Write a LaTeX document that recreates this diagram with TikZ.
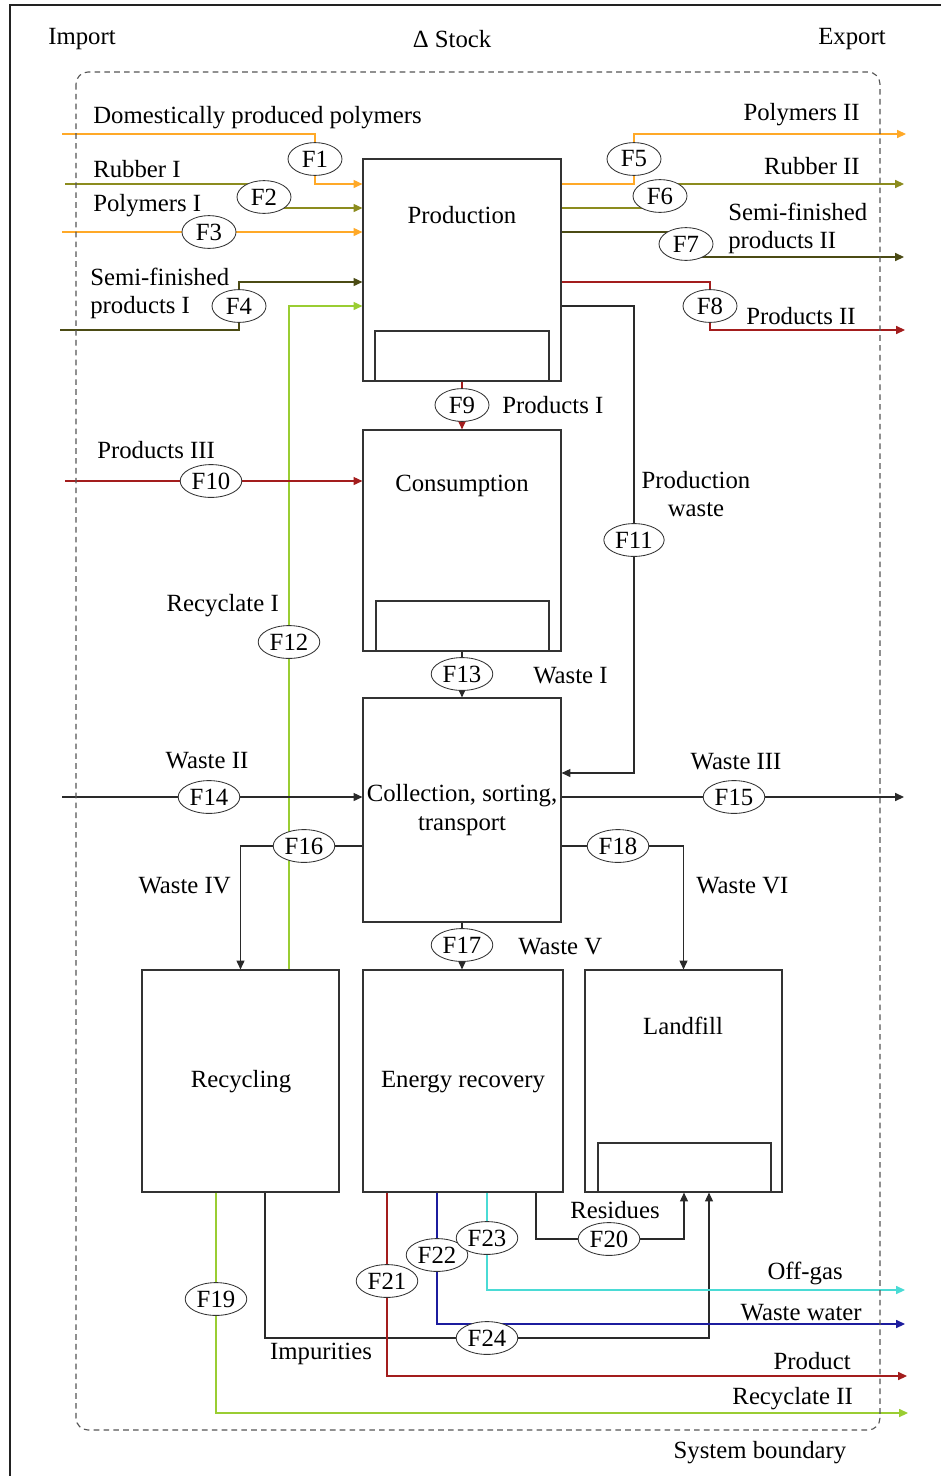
\documentclass[tikz,border=0pt]{standalone}
\usepackage{fontspec}
\setmainfont{Liberation Serif}
\usetikzlibrary{arrows.meta,shapes.geometric,backgrounds}
\definecolor{frame}{HTML}{222222}
\definecolor{boxln}{HTML}{333333}
\definecolor{bnd}{HTML}{555555}
\definecolor{blk}{HTML}{2A2A2A}
\definecolor{orng}{HTML}{FFA928}
\definecolor{olv}{HTML}{8C8C1E}
\definecolor{dolv}{HTML}{4B4B14}
\definecolor{dred}{HTML}{A31D1D}
\definecolor{ygrn}{HTML}{9ACD32}
\definecolor{cyn}{HTML}{4ADBD5}
\definecolor{navy}{HTML}{1C1C9E}
\tikzset{
  every node/.style={font=\fontsize{17.6}{20}\selectfont},
  proc/.style={draw=boxln,line width=0.8pt,inner sep=0pt},
  stk/.style={draw=boxln,line width=0.8pt},
  fl/.style={ellipse,draw=boxln,fill=white,line width=0.6pt,inner xsep=1.8pt,
             inner ysep=0pt,minimum height=0.82cm,minimum width=1.35cm},
  ln/.style={draw=#1,line width=0.8pt},
  ar/.style={ln=#1,-{Triangle[length=0.22cm,width=0.2cm]}},
  lb/.style={inner sep=0pt},
}

\begin{document}
\begin{tikzpicture}[x=0.025cm,y=-0.025cm]
\useasboundingbox (0,0) rectangle (941,1476);
\draw[frame,line width=1pt] (10,1476) |- (941,5);
\draw[bnd,line width=0.8pt,dash pattern=on 4pt off 3pt,rounded corners=0.3cm]
  (76,72) rectangle (880,1430);

% headers
\node (imp) at (82,39) {Import};
\node (dstk) at (452,39) {Δ Stock};
\node (exp) at (852,39) {Export};
\node (sysb) at (760,1453) {System boundary};

% processes
\node[proc,minimum width=4.95cm,minimum height=5.55cm] (prod) at (462,270) {};
\node[proc,minimum width=4.95cm,minimum height=5.525cm] (cons) at (462,540.5) {};
\node[proc,minimum width=4.95cm,minimum height=5.6cm] (coll) at (462,810) {};
\node[proc,minimum width=4.925cm,minimum height=5.55cm] (recy) at (240.5,1081) {};
\node[proc,minimum width=5cm,minimum height=5.55cm] (ener) at (463,1081) {};
\node[proc,minimum width=4.925cm,minimum height=5.55cm] (land) at (683.5,1081) {};
\draw[stk] (375,331) rectangle (549,381);
\draw[stk] (376,601) rectangle (549,651);
\draw[stk] (598,1143) rectangle (771,1192);

\node[lb] at (462,215) {Production};
\node[lb] at (462,486) {Consumption};
\node[lb,align=center] at (462,810) {Collection, sorting,\\transport};
\node[lb] at (241,1082) {Recycling};
\node[lb] at (463,1082) {Energy recovery};
\node[lb] at (683,1026) {Landfill};

% flows
\node[fl] (F1) at (315,159) {F1};
\node[fl] (F2) at (264,197) {F2};
\node[fl] (F3) at (209,232) {F3};
\node[fl] (F4) at (239,306) {F4};
\node[fl] (F5) at (634,159) {F5};
\node[fl] (F6) at (660,196) {F6};
\node[fl] (F7) at (686,244) {F7};
\node[fl] (F8) at (710,306) {F8};
\node[fl] (F9) at (462,405) {F9};
\node[fl] (F10) at (211,481) {F10};
\node[fl] (F11) at (634,540) {F11};
\node[fl] (F12) at (289,642) {F12};
\node[fl] (F13) at (462,674) {F13};
\node[fl] (F14) at (209,797) {F14};
\node[fl] (F15) at (734,797) {F15};
\node[fl] (F16) at (304,846) {F16};
\node[fl] (F17) at (462,945) {F17};
\node[fl] (F18) at (618,846) {F18};
\node[fl] (F19) at (216,1299) {F19};
\node[fl] (F20) at (609,1239) {F20};
\node[fl] (F21) at (387,1281) {F21};
\node[fl] (F22) at (437,1255) {F22};
\node[fl] (F23) at (487,1238) {F23};
\node[fl] (F24) at (487,1338) {F24};

% free ends
\coordinate (a1) at (62,134);
\coordinate (a2) at (65,184);
\coordinate (a3) at (62,232);
\coordinate (a4) at (60,330);
\coordinate (a10) at (65,481);
\coordinate (a14) at (62,797);
\coordinate (e5) at (906,134);
\coordinate (e6) at (904,184);
\coordinate (e7) at (904,257);
\coordinate (e8) at (905,330);
\coordinate (e15) at (904,797);
\coordinate (e19) at (908,1413);
\coordinate (e21) at (907,1376);
\coordinate (e22) at (905,1324);
\coordinate (e23) at (905,1290);

\begin{pgfonlayer}{background}
% into production
\draw[ln=orng] (a1) -| (F1);
\draw[ar=orng] (F1) |- (prod.west |- 0,184);
\draw[ln=olv] (a2) -- (a2 -| F2);
\draw[ar=olv] (F2) |- (prod.west |- 0,208);
\draw[ar=orng] (a3) -- (prod.west |- a3);
\draw[ln=dolv] (a4) -| (F4);
\draw[ar=dolv] (F4) |- (prod.west |- 0,282);
\draw[ar=ygrn] (recy.north -| F12) |- (prod.west |- 0,306);
% out of production
\draw[ln=orng] (prod.east |- 0,184) -| (F5);
\draw[ar=orng] (F5) |- (e5);
\draw[ln=olv] (prod.east |- 0,208) -- (F6 |- 0,208);
\draw[ar=olv] (F6 |- e6) -- (e6);
\draw[ln=dolv] (prod.east |- 0,232) -- (F7 |- 0,232);
\draw[ar=dolv] (F7 |- e7) -- (e7);
\draw[ln=dred] (prod.east |- 0,282) -| (F8);
\draw[ar=dred] (F8) |- (e8);
\draw[ar=dred] (prod.south) -- (cons.north);
\draw[ar=blk] (prod.east |- 0,306) -| (F11) |- (coll.east |- 0,773);
% consumption and collection
\draw[ar=dred] (a10) -- (cons.west |- a10);
\draw[ar=blk] (cons.south) -- (coll.north);
\draw[ar=blk] (a14) -- (coll.west |- a14);
\draw[ar=blk] (coll.east |- e15) -- (e15);
\draw[ar=blk] (coll.west |- F16) -| (recy.north);
\draw[ar=blk] (coll.south) -- (ener.north -| coll.south);
\draw[ar=blk] (coll.east |- F18) -| (land.north);
% treatment outputs
\draw[ar=ygrn] (recy.south -| F19) |- (e19);
\draw[ar=blk] (recy.south -| 265,0) |- (F24) -| (land.south -| 709,0);
\draw[ar=blk] (ener.south -| 536,0) |- (F20) -| (land.south -| 684,0);
\draw[ar=dred] (ener.south -| F21) |- (e21);
\draw[ar=navy] (ener.south -| F22) |- (e22);
\draw[ar=cyn] (ener.south -| F23) |- (e23);
\end{pgfonlayer}

% labels
\node[lb,anchor=west] at (93,118) {Domestically produced polymers};
\node[lb,anchor=west] at (93,169) {Rubber I};
\node[lb,anchor=west] at (93,206) {Polymers I};
\node[lb,anchor=west,align=left] at (90,293) {Semi-finished\\products I};
\node[lb,anchor=east] at (860,115) {Polymers II};
\node[lb,anchor=east] at (860,166) {Rubber II};
\node[lb,anchor=west,align=left] at (728,228) {Semi-finished\\products II};
\node[lb,anchor=west] at (746,316) {Products II};
\node[lb,anchor=west] at (502,405) {Products I};
\node[lb,anchor=west] at (97,450) {Products III};
\node[lb,align=center] at (696,494) {Production\\waste};
\node[lb,anchor=east] at (279,606) {Recyclate I};
\node[lb,anchor=west] at (533,676) {Waste I};
\node[lb] at (207,761) {Waste II};
\node[lb] at (736,762) {Waste III};
\node[lb,anchor=east] at (231,886) {Waste IV};
\node[lb,anchor=west] at (696,886) {Waste VI};
\node[lb,anchor=west] at (518,947) {Waste V};
\node[lb] at (615,1210) {Residues};
\node[lb,anchor=east] at (843,1273) {Off-gas};
\node[lb,anchor=east] at (862,1313) {Waste water};
\node[lb,anchor=east] at (851,1361) {Product};
\node[lb,anchor=east] at (853,1399) {Recyclate II};
\node[lb] at (321,1354) {Impurities};
\end{tikzpicture}
\end{document}
